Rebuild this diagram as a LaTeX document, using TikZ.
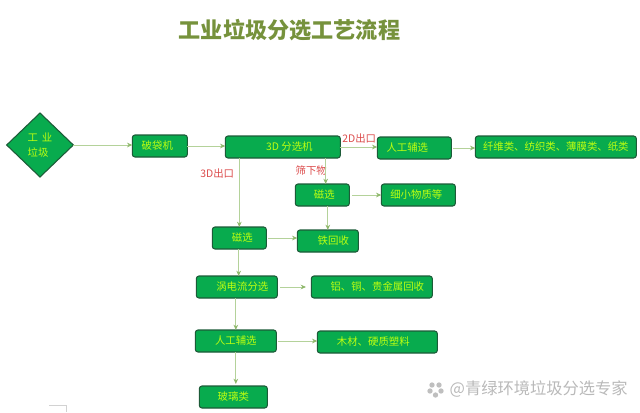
\documentclass[tikz,border=0pt]{standalone}
\usepackage{fontspec}
\setmainfont{Noto Sans CJK SC}
\usepackage{tikz}
\usetikzlibrary{positioning, shapes.geometric, arrows.meta}
\definecolor{boxgreen}{HTML}{08AB4E}
\definecolor{boxedge}{HTML}{1C5B38}
\definecolor{linegreen}{HTML}{B4D29A}
\definecolor{tipgreen}{HTML}{8FB86C}
\definecolor{textlime}{HTML}{BDFF10}
\definecolor{titleolive}{HTML}{76923C}
\definecolor{labelred}{HTML}{DB4A4A}

\begin{document}
\begin{tikzpicture}[
    x=0.75pt, y=-0.75pt,
    box/.style={rectangle, rounded corners=2pt, draw=boxedge, fill=boxgreen, thick, text=textlime, font=\fontsize{7.8pt}{9pt}\selectfont, minimum height=16.5pt, inner sep=0pt, outer sep=0pt},
    start/.style={diamond, aspect=1, draw=boxedge, fill=boxgreen, thick, text=textlime, font=\fontsize{7.8pt}{12pt}\selectfont, minimum width=50pt, minimum height=48pt, inner sep=0pt, outer sep=0pt, align=left},
    tag/.style={text=labelred, font=\fontsize{7.8pt}{9pt}\selectfont, inner sep=0pt},
    line/.style={draw=linegreen, line width=0.6pt, -{Stealth[length=4pt, width=3.5pt, color=tipgreen]}},
    shifted/.style={execute at begin node={\hspace*{#1}}}
    ]
    \useasboundingbox (0,0) rectangle (640,412);

    % Title
    \node (title) at (289.5,30) [text=titleolive, font=\fontsize{16.6pt}{18pt}\selectfont\bfseries] {工业垃圾分选工艺流程};

    % Nodes
    \node (trash) at (40,145) [start] {工\hspace{3pt}业\\[-1pt]垃圾};
    \node (poudai) [box, minimum width=41.25pt, right=44.25pt of trash, yshift=-0.75pt, shifted=-3.75pt] {破袋机};
    \node (fenxuan) [box, minimum width=86.25pt, right=28.5pt of poudai, yshift=-0.75pt, shifted=9.75pt] {3D 分选机};
    \node (rengongb) [box, minimum width=55.5pt, right=27.75pt of fenxuan, yshift=-0.75pt, shifted=-10.5pt] {人工辅选};
    \node (xianwei) [box, minimum width=120.75pt, right=18pt of rengongb, yshift=0.75pt] {纤维类、纺织类、薄膜类、纸类};
    \node (cixuanb) [box, minimum width=40.5pt, below right=19.5pt and 52.5pt of fenxuan.south west, shifted=3pt] {磁选};
    \node (xixiao) [box, minimum width=55.5pt, right=24pt of cixuanb, shifted=-3pt] {细小物质等};
    \node (tie) [box, minimum width=45.75pt, below right=18pt and 1.5pt of cixuanb.south west, shifted=8.25pt] {铁回收};
    \node (cixuan) [box, minimum width=40.5pt, below right=51.75pt and -9.75pt of fenxuan.south west, shifted=4.5pt] {磁选};
    \node (wodian) [box, minimum width=60.75pt, below right=20.25pt and -12pt of cixuan.south west, shifted=8.25pt] {涡电流分选};
    \node (lvtong) [box, minimum width=90.75pt, right=25.5pt of wodian, shifted=8.25pt] {铝、铜、贵金属回收};
    \node (rengong) [box, minimum width=60.75pt, below=24pt of wodian, xshift=-0.75pt] {人工辅选};
    \node (mucai) [box, minimum width=90pt, right=30.75pt of rengong, yshift=-0.75pt, shifted=-6pt] {木材、硬质塑料};
    \node (boli) [box, minimum width=51pt, below right=25.5pt and 3pt of rengong.south west] {玻璃类};

    % Labels
    \node (tagc) [tag, below left=8pt and -6.75pt of fenxuan.south west] {3D出口};
    \node (tagb) [tag, above left=-5pt and 0.75pt of rengongb.north west] {2D出口};
    \node (tags) [tag, below right=5.5pt and 52.5pt of fenxuan.south west] {筛下物};

    % Arrows
    \draw [line] (trash.east) -- (poudai.west |- trash.east);
    \draw [line] (poudai.east) -- (fenxuan.west |- poudai.east);
    \draw [line] (fenxuan.east) -- (rengongb.west |- fenxuan.east);
    \draw [line] ([xshift=1.5pt]rengongb.east) -- (xianwei.west |- rengongb.east);
    \draw [line] (cixuan.north |- fenxuan.south) -- (cixuan.north);
    \draw [line] ([xshift=2.5pt]cixuanb.north |- fenxuan.south) -- ([xshift=2.5pt]cixuanb.north);
    \draw [line] ([xshift=2pt]cixuanb.east) -- (xixiao.west);
    \draw [line] (tie.north |- cixuanb.south) -- (tie.north);
    \draw [line] ([xshift=1.5pt]cixuan.east) -- (tie.west |- cixuan.east);
    \draw [line] ([xshift=-0.5pt]cixuan.south) -- ([xshift=-0.5pt]cixuan.south |- wodian.north);
    \draw [line] ([xshift=2pt]wodian.east) -- ([xshift=-4pt]lvtong.west);
    \draw [line] (rengong.north |- wodian.south) -- (rengong.north);
    \draw [line] ([xshift=1pt]rengong.east) -- (mucai.west |- rengong.east);
    \draw [line] (rengong.south) -- ([yshift=1.5pt]rengong.south |- boli.north);

    % Watermark
    \node (mark) at (628,389) [anchor=east, text=gray!55, font=\fontsize{12.2pt}{14pt}\selectfont, inner sep=0pt] {@青绿环境垃圾分选专家};
    \foreach \cx/\cy in {432/385, 439/385, 430/391, 441/391, 435.5/395} {
        \fill [gray!50] (\cx,\cy) circle (2pt);
    }
    \fill [white] (435.5,390) circle (1.4pt);
    \draw [gray!35] (49,405) -- (66,405) -- (66,412);
\end{tikzpicture}
\end{document}
